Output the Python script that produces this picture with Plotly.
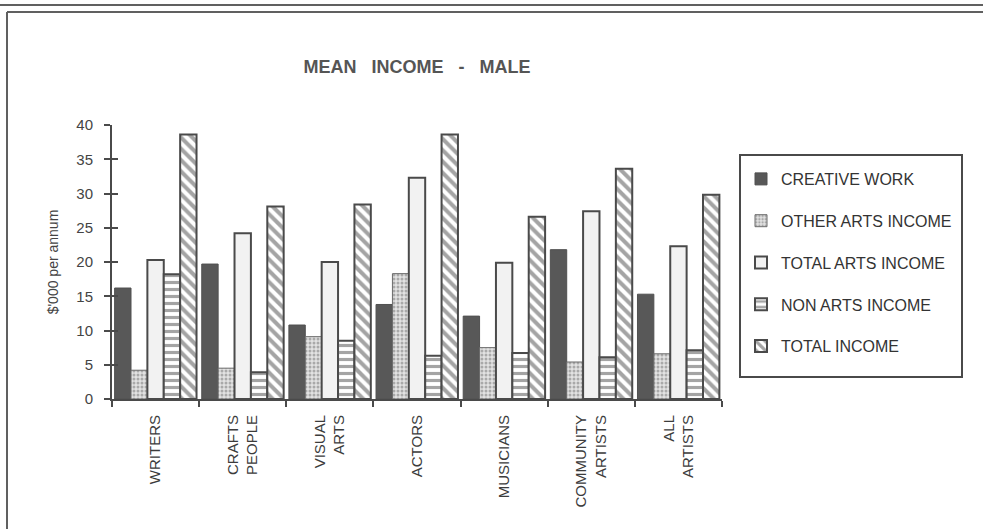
import plotly.graph_objects as go

categories = ["WRITERS", "CRAFTS<br>PEOPLE", "VISUAL<br>ARTS", "ACTORS",
              "MUSICIANS", "COMMUNITY<br>ARTISTS", "ALL<br>ARTISTS"]
creative_work = [16.2, 19.7, 10.8, 13.8, 12.1, 21.8, 15.3]
other_arts_income = [4.2, 4.5, 9.1, 18.3, 7.5, 5.4, 6.6]
total_arts_income = [20.3, 24.2, 20.0, 32.3, 19.9, 27.4, 22.3]
non_arts_income = [18.2, 3.9, 8.5, 6.3, 6.7, 6.1, 7.1]
total_income = [38.6, 28.1, 28.4, 38.6, 26.6, 33.6, 29.8]

series_names = ["CREATIVE WORK", "OTHER ARTS INCOME", "TOTAL ARTS INCOME",
                "NON ARTS INCOME", "TOTAL INCOME"]
series_values = [creative_work, other_arts_income, total_arts_income,
                 non_arts_income, total_income]

W, H = 983, 529
L, R, T, B = 112, 261, 125, 130
PW, PH = W - L - R, H - T - B
INK = "#4a4a4a"
FONT = "Liberation Sans, Arial, Helvetica, sans-serif"

def px(x):
    return (x - L) / PW

def py(y):
    return (H - B - y) / PH

styles = [
    dict(color="#585858", line=dict(color="#505050", width=1)),
    dict(color="#d8d8d8", line=dict(color="#6a6a6a", width=1),
         pattern=dict(shape=".", fgcolor="#707070", bgcolor="#e2e2e2", size=4, solidity=0.45)),
    dict(color="#f2f2f2", line=dict(color=INK, width=2)),
    dict(color="#ffffff", line=dict(color=INK, width=2),
         pattern=dict(shape="-", fgcolor=INK, bgcolor="#ffffff", size=7, solidity=0.45)),
    dict(color="#ffffff", line=dict(color=INK, width=2),
         pattern=dict(shape="\\", fgcolor=INK, bgcolor="#ffffff", size=8, solidity=0.5)),
]

fig = go.Figure()
for i, (name, vals) in enumerate(zip(series_names, series_values)):
    fig.add_trace(go.Bar(x=categories, y=vals, name=name, marker=styles[i],
                         legendgroup=f"g{i}"))

# overlay axis to make the y ticks cross the axis line
fig.add_trace(go.Scatter(x=[None], y=[None], yaxis="y2", showlegend=False))

shapes = [
    dict(type="line", xref="paper", yref="paper", x0=px(0), x1=px(W), y0=py(5), y1=py(5),
         line=dict(color="#606060", width=2)),
    dict(type="line", xref="paper", yref="paper", x0=px(7), x1=px(W), y0=py(12), y1=py(12),
         line=dict(color="#606060", width=2)),
    dict(type="line", xref="paper", yref="paper", x0=px(7), x1=px(7), y0=py(12), y1=py(H),
         line=dict(color="#606060", width=2)),
    # legend frame
    dict(type="rect", xref="paper", yref="paper", x0=px(740), x1=px(962), y0=py(155), y1=py(377),
         line=dict(color=INK, width=2), fillcolor="rgba(0,0,0,0)", layer="below"),
]

fig.update_layout(
    width=W, height=H,
    margin=dict(l=L, r=R, t=T, b=B),
    paper_bgcolor="white", plot_bgcolor="white",
    font=dict(family=FONT, color="#444444"),
    barmode="group", bargap=0.06, bargroupgap=0,
    title=dict(text="<b>MEAN   INCOME   -   MALE</b>", x=417 / W, xanchor="center",
               y=1 - 67 / H, yanchor="middle",
               font=dict(family=FONT, size=18, color="#555555")),
    xaxis=dict(type="category", range=[-0.5, 6.5], showline=True, linecolor=INK, linewidth=2,
               ticks="outside", tickson="boundaries", ticklen=6, tickwidth=2, tickcolor=INK,
               tickangle=-90, ticklabelstandoff=8,
               tickfont=dict(family=FONT, size=15, color="#3c3c3c"),
               showgrid=False, zeroline=False),
    yaxis=dict(range=[0, 40], tickvals=[0, 5, 10, 15, 20, 25, 30, 35, 40],
               showline=True, linecolor=INK, linewidth=2,
               ticks="outside", ticklen=6, tickwidth=2, tickcolor=INK,
               ticklabelstandoff=8,
               tickfont=dict(family=FONT, size=15, color="#444444"),
               title=dict(text="$'000 per annum", standoff=14,
                          font=dict(family=FONT, size=14, color="#444444")),
               showgrid=False, zeroline=False),
    yaxis2=dict(range=[0, 40], overlaying="y", side="left", tickvals=[0, 5, 10, 15, 20, 25, 30, 35, 40],
                ticks="inside", ticklen=6, tickwidth=2, tickcolor=INK,
                showticklabels=False, showline=False, showgrid=False, zeroline=False),
    legend=dict(x=px(741), y=py(162), xanchor="left", yanchor="top",
                borderwidth=0, bgcolor="rgba(0,0,0,0)",
                traceorder="grouped", tracegroupgap=18,
                font=dict(family=FONT, size=16, color="#333333")),
    shapes=shapes,
)

fig.write_html("out.html")
